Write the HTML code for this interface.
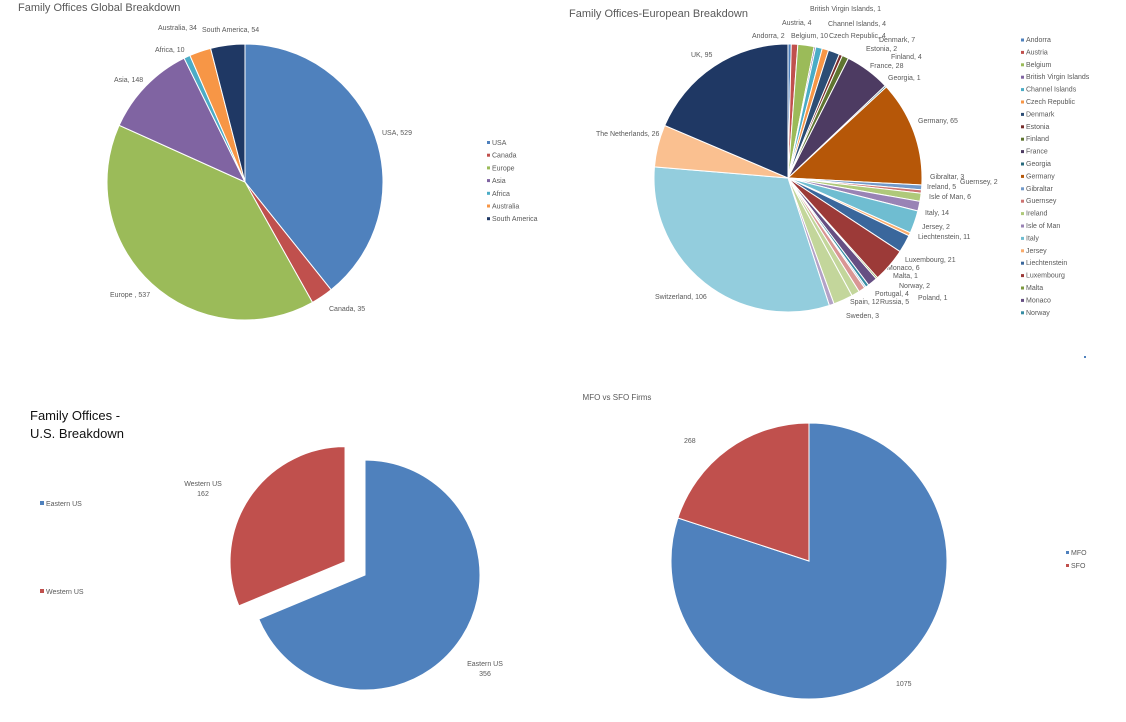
<!DOCTYPE html>
<html><head><meta charset="utf-8"><style>
body{margin:0;background:#fff;width:1126px;height:722px;overflow:hidden}
svg{display:block}
text{font-family:"Liberation Sans",sans-serif;fill:#595959}
.s{font-size:7px}
</style></head><body>
<svg id="c" width="1126" height="722" xmlns="http://www.w3.org/2000/svg">
<text x="18" y="11" style="font-size:11px">Family Offices Global Breakdown</text>
<text x="569" y="17" style="font-size:11px">Family Offices-European Breakdown</text>
<text x="30" y="420" style="font-size:13px;fill:#111">Family Offices -</text>
<text x="30" y="438" style="font-size:13px;fill:#111">U.S. Breakdown</text>
<text x="617" y="400" text-anchor="middle" style="font-size:8px">MFO vs SFO Firms</text>
<g class="s">
<text x="382" y="135">USA, 529</text><text x="329" y="311">Canada, 35</text>
<text x="110" y="297">Europe , 537</text><text x="114" y="82">Asia, 148</text>
<text x="155" y="52">Africa, 10</text><text x="158" y="30">Australia, 34</text>
<text x="202" y="32">South America, 54</text>
<text x="810" y="11">British Virgin Islands, 1</text><text x="782" y="25">Austria, 4</text>
<text x="828" y="26">Channel Islands, 4</text><text x="752" y="38">Andorra, 2</text>
<text x="791" y="38">Belgium, 10</text><text x="829" y="38">Czech Republic, 4</text>
<text x="879" y="42">Denmark, 7</text><text x="866" y="51">Estonia, 2</text>
<text x="891" y="59">Finland, 4</text><text x="870" y="68">France, 28</text>
<text x="888" y="80">Georgia, 1</text><text x="691" y="57">UK, 95</text>
<text x="596" y="136">The Netherlands, 26</text><text x="918" y="123">Germany, 65</text>
<text x="930" y="179">Gibraltar, 3</text><text x="960" y="184">Guernsey, 2</text>
<text x="927" y="189">Ireland, 5</text><text x="929" y="199">Isle of Man, 6</text>
<text x="925" y="215">Italy, 14</text><text x="922" y="229">Jersey, 2</text>
<text x="918" y="239">Liechtenstein, 11</text><text x="905" y="262">Luxembourg, 21</text>
<text x="887" y="270">Monaco, 6</text><text x="893" y="278">Malta, 1</text>
<text x="899" y="288">Norway, 2</text><text x="875" y="296">Portugal, 4</text>
<text x="918" y="300">Poland, 1</text><text x="850" y="304">Spain, 12</text>
<text x="880" y="304">Russia, 5</text><text x="655" y="299">Switzerland, 106</text>
<text x="846" y="318">Sweden, 3</text>
<text x="203" y="486" text-anchor="middle">Western US</text><text x="203" y="496" text-anchor="middle">162</text>
<text x="485" y="666" text-anchor="middle">Eastern US</text><text x="485" y="676" text-anchor="middle">356</text>
<text x="684" y="443">268</text><text x="896" y="686">1075</text>
<rect x="40" y="501" width="4" height="4" fill="#4f81bd"/><text x="46" y="506">Eastern US</text>
<rect x="40" y="589" width="4" height="4" fill="#c0504d"/><text x="46" y="594">Western US</text>
<rect x="1066" y="551" width="3" height="3" fill="#4f81bd"/><text x="1071" y="555">MFO</text>
<rect x="1066" y="564" width="3" height="3" fill="#c0504d"/><text x="1071" y="568">SFO</text>
</g>
<g id="g"></g>
</svg>
<script>
var g=document.getElementById('g'),NS="http://www.w3.org/2000/svg";
function el(n,a,p){var e=document.createElementNS(NS,n);for(var k in a)e.setAttribute(k,a[k]);(p||g).appendChild(e);return e;}
function pie(cx,cy,r,vals,cols,offs){var t=vals.reduce(function(a,b){return a+b},0),a=0;
vals.forEach(function(v,i){var a0=a/t*2*Math.PI,a1=(a+v)/t*2*Math.PI;a+=v;
var dx=0,dy=0;if(offs&&offs[i]){var m=(a0+a1)/2;dx=Math.sin(m)*offs[i];dy=-Math.cos(m)*offs[i];}
var x=cx+dx,y=cy+dy,la=(a1-a0)>Math.PI?1:0;
var d="M"+x+","+y+"L"+(x+r*Math.sin(a0))+","+(y-r*Math.cos(a0))+"A"+r+","+r+" 0 "+la+" 1 "+(x+r*Math.sin(a1))+","+(y-r*Math.cos(a1))+"Z";
el('path',{d:d,fill:cols[i],stroke:'#fff','stroke-width':1});});}
var gc=["#4f81bd","#c0504d","#9bbb59","#8064a2","#4bacc6","#f79646","#1f3864"];
pie(245,182,138,[529,35,537,148,10,34,54],gc);
var gn=["USA","Canada","Europe","Asia","Africa","Australia","South America"];
gn.forEach(function(n,i){el('rect',{x:487,y:141+i*12.7,width:3,height:3,fill:gc[i]});var t=el('text',{x:492,y:145+i*12.7,'class':'s'});t.textContent=n;});
var ec=["#4f81bd","#c0504d","#9bbb59","#8064a2","#4bacc6","#f79646","#2c4d75","#772c2a","#5f7530","#4d3b62","#276a7c","#b65708","#729aca","#cd7371","#afc97a","#9983b5","#6fbdd1","#f9ab6b","#3a679c","#9c3a38","#7d9a3f","#664f83","#358ca3","#95b3d7","#d99694","#c3d69b","#c3d69b","#b3a2c7","#93cddd","#fac090","#1f3864"];
var ev=[2,4,10,1,4,4,7,2,4,28,1,65,3,2,5,6,14,2,11,21,1,6,2,1,4,5,12,3,160,26,95];
pie(788,178,134,ev,ec);
var en=["Andorra","Austria","Belgium","British Virgin Islands","Channel Islands","Czech Republic","Denmark","Estonia","Finland","France","Georgia","Germany","Gibraltar","Guernsey","Ireland","Isle of Man","Italy","Jersey","Liechtenstein","Luxembourg","Malta","Monaco","Norway"];
en.forEach(function(n,i){el('rect',{x:1021,y:38.5+i*12.4,width:3,height:3,fill:ec[i]});var t=el('text',{x:1026,y:42+i*12.4,'class':'s'});t.textContent=n;});
el('rect',{x:1084,y:356,width:2,height:2,fill:'#4f81bd'});
pie(365,575,115,[356,162],["#4f81bd","#c0504d"],[0,24]);
pie(809,561,138,[1075,268],["#4f81bd","#c0504d"]);
</script>
</body></html>
